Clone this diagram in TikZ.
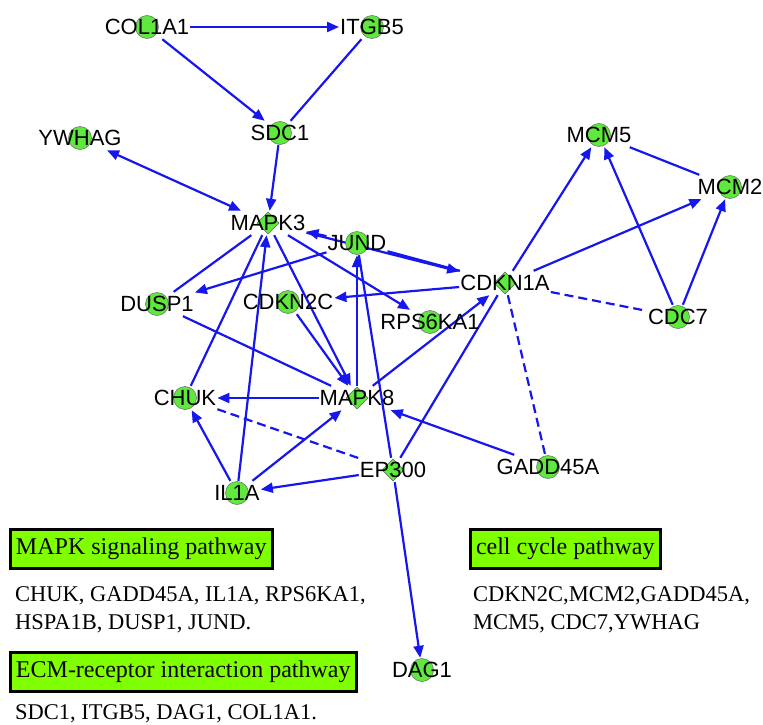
\documentclass[tikz,border=0pt]{standalone}
\usepackage{fontspec}
\newfontfamily\arialfont{Liberation Sans}
\newfontfamily\cambfont{Liberation Serif}
\usetikzlibrary{shapes}
\usetikzlibrary{arrows.meta}
\usetikzlibrary{calc,positioning,backgrounds}
\definecolor{dotgreen}{RGB}{95,232,62}
\definecolor{boxgreen}{RGB}{128,255,0}
\definecolor{edgeblue}{RGB}{22,22,238}

\begin{document}
\begin{tikzpicture}[x=1pt, y=-1pt,
  dotline/.style = {fill=dotgreen, draw=black!60, line width=0.5pt},
  gene/.style = {rectangle, inner sep=1pt, minimum height=24pt, text height=15.5pt, text depth=0pt,
    font=\arialfont\fontsize{22}{22}\selectfont,
    path picture={\draw[dotline] (path picture bounding box.center) circle (11.5pt);}},
  hub/.style = {gene,
    path picture={\draw[dotline] ($(path picture bounding box.center)+(0,11pt)$) -- ++(11pt,-11pt) -- ++(-11pt,-11pt) -- ++(-11pt,11pt) -- cycle;}},
  link/.style = {draw=edgeblue, line width=2.2pt},
  arr/.style = {link, -{Triangle[length=12pt,width=10pt]}},
  twoway/.style = {link, {Triangle[length=12pt,width=10pt]}-{Triangle[length=12pt,width=10pt]}},
  weak/.style = {link, dash pattern=on 9pt off 5pt},
  pathbox/.style = {draw=black, line width=3pt, fill=boxgreen, inner xsep=6pt, inner ysep=0pt, minimum height=39pt,
    font=\cambfont\fontsize{24}{24}\selectfont},
  genelist/.style = {align=left, inner sep=0pt, font=\cambfont\fontsize{22.5}{28}\selectfont}]

\useasboundingbox (0,0) rectangle (763,725);

% genes
\node[gene] (COL1A1) at (147,27) {COL1A1};
\node[gene, right of=COL1A1, node distance=225pt] (ITGB5) {ITGB5};
\node[gene] (SDC1) at (280,133) {SDC1};
\node[gene] (YWHAG) at (80,138) {YWHAG};
\node[hub] (MAPK3) at (268,223) {MAPK3};
\node[hub] (MAPK8) at (357,398) {MAPK8};
\node[gene, above of=MAPK8, node distance=155pt] (JUND) {JUND};
\node[gene, left of=MAPK8, node distance=172pt] (CHUK) {CHUK};
\node[gene] (DUSP1) at (157,304) {DUSP1};
\node[gene] (CDKN2C) at (288,302) {CDKN2C};
\node[hub] (CDKN1A) at (505,283) {CDKN1A};
\node[gene] (RPS6KA1) at (430,322) {RPS6KA1};
\node[gene] (MCM5) at (599,135) {MCM5};
\node[gene] (MCM2) at (730,187) {MCM2};
\node[gene] (CDC7) at (678,317) {CDC7};
\node[hub] (EP300) at (393,470) {EP300};
\node[gene] (IL1A) at (237,493) {IL1A};
\node[gene] (GADD45A) at (548,467) {GADD45A};
\node[gene] (DAG1) at (422,670) {DAG1};

% pathways
\node[pathbox, anchor=west] (mapkbox) at (8.5,549) {MAPK signaling pathway};
\node[genelist, anchor=north west] (mapklist) at (15,586) {CHUK, GADD45A, IL1A, RPS6KA1,\\HSPA1B, DUSP1, JUND.};
\node[pathbox, anchor=west] (ecmbox) at (8.5,672) {ECM-receptor interaction pathway};
\node[genelist, anchor=north west] (ecmlist) at (15,704) {SDC1, ITGB5, DAG1, COL1A1.};
\node[pathbox, anchor=west] (cyclebox) at (468.5,549) {cell cycle pathway};
\node[genelist, anchor=north west] (cyclelist) at (473,586) {CDKN2C,MCM2,GADD45A,\\MCM5, CDC7,YWHAG};

\begin{pgfonlayer}{background}
\draw[arr] (COL1A1) -- (ITGB5);
\draw[arr] (COL1A1) -- (SDC1);
\draw[link] (ITGB5) -- (SDC1);
\draw[arr] (SDC1) -- (MAPK3);
\draw[twoway] (MAPK3) -- (YWHAG);
\draw[link] (MAPK3) -- (DUSP1);
\draw[arr] (JUND) -- (DUSP1);
\draw[arr] (JUND) -- (MAPK3);
\draw[arr] (MAPK3) -- (CDKN1A);
\draw[link] (JUND) -- (CDKN1A);
\draw[arr] (MAPK3) -- (RPS6KA1);
\draw[arr] (MAPK3) -- (MAPK8);
\draw[arr] (CDKN2C) -- (MAPK8);
\draw[link] (MAPK3) -- (CHUK);
\draw[arr] (IL1A) -- (MAPK3);
\draw[arr] (CDKN1A) -- (CDKN2C);
\draw[arr] (MAPK8) -- (JUND);
\draw[link] (JUND) -- (EP300);
\draw[arr] (GADD45A) -- (MAPK8);
\draw[arr] (MAPK8) -- (CHUK);
\draw[weak] (CHUK) -- (EP300);
\draw[arr] (IL1A) -- (CHUK);
\draw[arr] (IL1A) -- (MAPK8);
\draw[arr] (EP300) -- (IL1A);
\draw[link] (EP300) -- (CDKN1A);
\draw[arr] (MAPK8) -- (CDKN1A);
\draw[link] (DUSP1) -- (MAPK8);
\draw[weak] (CDKN1A) -- (GADD45A);
\draw[weak] (CDKN1A) -- (CDC7);
\draw[arr] (CDKN1A) -- (MCM5);
\draw[arr] (CDKN1A) -- (MCM2);
\draw[arr] (CDC7) -- (MCM5);
\draw[arr] (CDC7) -- (MCM2);
\draw[link] (MCM5) -- (MCM2);
\draw[arr] (EP300) -- (DAG1);
\end{pgfonlayer}

\end{tikzpicture}
\end{document}
